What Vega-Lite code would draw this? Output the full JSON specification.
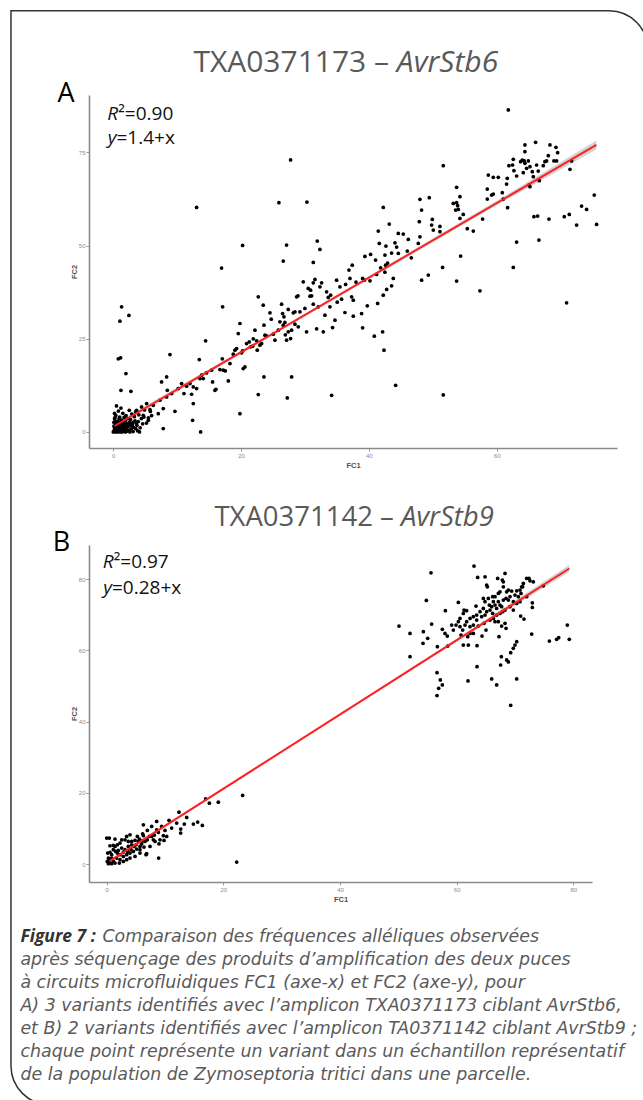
{
"$schema":"https://vega.github.io/schema/vega-lite/v6.json",
"background":"white",
"padding":{"left":10,"top":10,"right":0,"bottom":0},
"bounds":"flush",
"spacing":97,
"config":{
  "view":{"stroke":null},
  "axis":{"grid":false,"domainColor":"#8a8a8a","domainWidth":1.6,"tickColor":"#9a9a9a","tickSize":3,"tickWidth":1,"labelFont":"Liberation Sans","labelFontSize":6,"labelColor":"#8c8c8c","labelPadding":1,"titleFont":"Liberation Sans","titleFontSize":7.5,"titleColor":"#505050","titleFontWeight":"bold"},
  "axisY":{"titlePadding":0},
  "axisX":{"titlePadding":3}
},
"vconcat":[
{
"width":528,"height":353,
"encoding":{
  "x":{"field":"x","type":"quantitative","scale":{"domain":[-3.8,78.83],"nice":false,"zero":false},"axis":{"title":"FC1","values":[0,20,40,60]}},
  "y":{"field":"y","type":"quantitative","scale":{"domain":[-4.3,90.4],"nice":false,"zero":false},"axis":{"title":"FC2","values":[0,25,50,75]}}
},
"layer":[
 {"data":{"values":[{"x":-16.01,"x2":83.68,"y":112.97,"y2":-180.5}]},
  "mark":{"type":"rect","filled":false,"color":"#333333","strokeWidth":1.5,"cornerRadiusTopRight":39,"cornerRadiusBottomLeft":39},
  "encoding":{"x2":{"field":"x2"},"y2":{"field":"y2"}}},
 {"data":{"values":[{"x":0.2,"y":0.9,"y2":2.3},{"x":20,"y":21.0,"y2":21.8},{"x":40,"y":41.0,"y2":41.8},{"x":60,"y":60.8,"y2":62.0},{"x":75.6,"y":75.8,"y2":78.2}]},
  "mark":{"type":"area","color":"#9e9e9e","opacity":0.45},
  "encoding":{"y2":{"field":"y2"}}},
 {"data":{"values":[
{"x":27.75,"y":72.97},{"x":13.04,"y":60.25},{"x":25.92,"y":61.51},{"x":30.31,"y":61.69},{"x":20.24,"y":50.05},{"x":27.12,"y":50.14},{"x":31.92,"y":51.21},{"x":32.34,"y":48.97},{"x":26.6,"y":45.84},{"x":31.3,"y":45.48},{"x":16.95,"y":43.96},{"x":1.3,"y":33.57},{"x":1.04,"y":29.72},{"x":2.45,"y":31.25},{"x":17.11,"y":33.57},{"x":0.78,"y":19.61},{"x":1.15,"y":19.88},{"x":1.98,"y":15.67},{"x":1.2,"y":11.19},{"x":2.76,"y":10.92},{"x":8.87,"y":20.77},{"x":14.45,"y":24.44},{"x":13.46,"y":19.43},{"x":17.06,"y":19.61},{"x":19.82,"y":4.92},{"x":13.67,"y":0},{"x":7.82,"y":0.9},{"x":12.41,"y":3.13},{"x":27.23,"y":9.13},{"x":22.69,"y":10.03},{"x":27.91,"y":14.77},{"x":20.34,"y":17.01},
{"x":3.65,"y":5.82},{"x":4.43,"y":6.71},{"x":5.22,"y":7.61},{"x":4.69,"y":4.48},{"x":5.74,"y":6.0},{"x":5.48,"y":3.13},{"x":6.26,"y":7.16},{"x":7.3,"y":8.51},{"x":7.04,"y":4.92},{"x":7.82,"y":6.27},{"x":8.35,"y":9.4},{"x":8.45,"y":11.19},{"x":9.13,"y":10.3},{"x":7.56,"y":13.43},{"x":8.35,"y":14.77},{"x":9.65,"y":5.55},{"x":10.17,"y":11.64},{"x":10.69,"y":12.98},{"x":11.06,"y":10.3},{"x":11.48,"y":12.27},{"x":12.0,"y":12.98},{"x":12.26,"y":10.12},{"x":12.52,"y":7.61},{"x":12.52,"y":12.09},{"x":13.04,"y":11.64},{"x":13.56,"y":14.32},{"x":13.82,"y":15.22},{"x":14.08,"y":14.32},{"x":14.6,"y":15.85},{"x":15.39,"y":16.56},{"x":15.54,"y":13.43},{"x":15.91,"y":11.19},{"x":16.07,"y":11.46},{"x":16.69,"y":16.74},{"x":17.21,"y":16.56},{"x":17.53,"y":16.38},{"x":18.0,"y":13.7},{"x":18.26,"y":18.35},{"x":18.78,"y":20.86},{"x":19.04,"y":21.93},{"x":19.3,"y":22.38},{"x":19.56,"y":26.41},{"x":19.82,"y":29.1},{"x":20.08,"y":21.22},{"x":20.24,"y":21.76},{"x":20.6,"y":17.46},{"x":20.86,"y":23.73},{"x":21.28,"y":24.17},{"x":21.49,"y":22.83},{"x":21.81,"y":23.01},{"x":21.91,"y":24.98},{"x":22.17,"y":27.31},{"x":22.43,"y":24.44},{"x":22.53,"y":21.93},{"x":22.69,"y":36.26},{"x":22.95,"y":23.28},{"x":23.21,"y":23.73},{"x":23.47,"y":34.02},{"x":23.58,"y":14.77},{"x":23.58,"y":28.65},{"x":23.73,"y":25.96},{"x":23.99,"y":25.78},{"x":24.52,"y":31.96},{"x":24.72,"y":30.26},{"x":25.04,"y":26.23},{"x":25.3,"y":24.62},{"x":25.82,"y":27.31},{"x":26.08,"y":29.54},{"x":26.34,"y":34.29},{"x":26.5,"y":31.78},{"x":26.6,"y":28.65},{"x":26.71,"y":30.89},{"x":26.86,"y":29.37},{"x":26.92,"y":26.05},{"x":27.12,"y":24.62},{"x":27.38,"y":32.86},{"x":27.38,"y":26.86},{"x":27.75,"y":25.07},{"x":27.91,"y":27.31},{"x":28.17,"y":31.96},{"x":28.43,"y":28.92},{"x":28.43,"y":32.23},{"x":28.69,"y":36.26},{"x":28.9,"y":36.53},{"x":28.95,"y":28.2},{"x":29.21,"y":32.23},{"x":29.73,"y":40.29},{"x":29.99,"y":33.13},{"x":30.25,"y":26.86},{"x":30.51,"y":38.5},{"x":30.78,"y":36.44},{"x":30.88,"y":38.05},{"x":31.04,"y":36.53},{"x":31.3,"y":34.29},{"x":31.3,"y":40.02},{"x":31.56,"y":40.92},{"x":31.82,"y":27.67},{"x":32.08,"y":33.57},{"x":32.34,"y":38.95},{"x":32.6,"y":40.02},{"x":32.86,"y":26.86},{"x":33.12,"y":31.34},{"x":33.38,"y":37.6},{"x":33.64,"y":36.08},
{"x":61.82,"y":86.39},{"x":64.42,"y":76.99},{"x":64.42,"y":75.2},{"x":66.09,"y":77.71},{"x":68.34,"y":76.99},{"x":69.28,"y":76.37},{"x":69.54,"y":74.93},{"x":69.38,"y":72.7},{"x":68.96,"y":72.7},{"x":68.08,"y":74.13},{"x":67.81,"y":72.7},{"x":67.29,"y":71.44},{"x":67.55,"y":72.52},{"x":66.51,"y":70.01},{"x":66.25,"y":71.62},{"x":65.73,"y":68.49},{"x":65.57,"y":69.83},{"x":65.21,"y":71.17},{"x":64.95,"y":72.7},{"x":64.32,"y":72.7},{"x":64.01,"y":72.96},{"x":63.75,"y":72.52},{"x":64.42,"y":72.07},{"x":64.68,"y":70.72},{"x":64.16,"y":69.56},{"x":63.12,"y":68.67},{"x":62.6,"y":73.14},{"x":62.7,"y":70.1},{"x":62.49,"y":71.62},{"x":61.92,"y":71.44},{"x":61.66,"y":68.04},{"x":61.55,"y":66.52},{"x":60.25,"y":68.31},{"x":59.47,"y":68.31},{"x":59.21,"y":63.56},{"x":58.69,"y":68.93},{"x":58.53,"y":65.17},{"x":58.53,"y":62.49},{"x":59.47,"y":63.83},{"x":60.88,"y":64.19},{"x":61.03,"y":62.49},{"x":61.71,"y":60.16},{"x":65.05,"y":66.25},{"x":65.21,"y":65.8},{"x":66.67,"y":67.41},{"x":71.47,"y":70.46},{"x":71.73,"y":72.7},{"x":70.58,"y":57.74},{"x":71.36,"y":58.37},{"x":65.83,"y":57.74},{"x":66.41,"y":57.92},{"x":68.18,"y":57.12},{"x":72.51,"y":55.51},{"x":73.29,"y":60.61},{"x":74.07,"y":59.71},{"x":75.27,"y":63.56},{"x":75.64,"y":55.68},{"x":70.94,"y":34.65},{"x":66.61,"y":51.48},{"x":63.12,"y":50.94},{"x":62.6,"y":44.14},{"x":57.38,"y":37.87},{"x":57.8,"y":57.12},{"x":56.34,"y":53.89},{"x":55.4,"y":54.52},{"x":54.36,"y":47.18},{"x":53.73,"y":40.47},{"x":54.77,"y":58.37},{"x":54.25,"y":57.3},{"x":53.99,"y":59.71},{"x":53.89,"y":60.7},{"x":53.57,"y":59.53},{"x":53.73,"y":61.5},{"x":53.21,"y":61.32},{"x":53.73,"y":65.62},{"x":54.25,"y":63.12},{"x":51.64,"y":71.44},{"x":51.54,"y":44.14},{"x":51.64,"y":9.94},{"x":51.12,"y":53.72},{"x":51.12,"y":55.15},{"x":49.92,"y":57.03},{"x":50.08,"y":54.16},{"x":49.82,"y":55.51},{"x":49.45,"y":62.85},{"x":49.3,"y":42.08},{"x":48.25,"y":40.73},{"x":48.25,"y":59.53},{"x":47.99,"y":62.4},{"x":47.99,"y":52.37},{"x":47.89,"y":56.4},{"x":47.73,"y":50.58},{"x":46.64,"y":46.73},{"x":46.17,"y":51.66},{"x":46.01,"y":48.52},{"x":45.38,"y":53.09},{"x":44.6,"y":53.27},{"x":44.6,"y":47.9},{"x":44.34,"y":49.6},{"x":44.08,"y":50.76},{"x":43.82,"y":41.18},{"x":43.56,"y":39.21},{"x":43.56,"y":47.99},{"x":43.19,"y":55.77},{"x":42.93,"y":45.3},{"x":42.78,"y":38.23},{"x":42.62,"y":44.76},{"x":42.51,"y":42.88},{"x":42.25,"y":60.25},{"x":42.25,"y":36.71},{"x":42.15,"y":26.86},{"x":42.36,"y":21.93},{"x":44.18,"y":12.53},{"x":42.67,"y":49.87},{"x":42.51,"y":47.45},{"x":41.84,"y":44.05},{"x":41.63,"y":50.58},{"x":41.47,"y":53.89},{"x":41.37,"y":34.47},{"x":41.21,"y":42.26},{"x":41.05,"y":46.11},{"x":40.27,"y":47.63},{"x":40.17,"y":40.56},{"x":39.75,"y":33.84},{"x":39.38,"y":47.09},{"x":39.02,"y":41.18},{"x":38.86,"y":31.78},{"x":39.02,"y":27.93},{"x":40.85,"y":25.69},{"x":39.28,"y":40.73},{"x":37.98,"y":40.2},{"x":37.56,"y":35.36},{"x":37.56,"y":31.07},{"x":37.3,"y":36.26},{"x":37.04,"y":41.18},{"x":36.88,"y":43.42},{"x":37.4,"y":44.76},{"x":36.36,"y":39.57},{"x":36.25,"y":32.05},{"x":35.73,"y":35.63},{"x":35.47,"y":38.94},{"x":34.95,"y":40.73},{"x":35.05,"y":34.83},{"x":34.69,"y":29.99},{"x":34.32,"y":28.02},{"x":34.17,"y":9.85},{"x":33.91,"y":33.57},{"x":34.01,"y":36.71},
{"x":0.1,"y":0.2},{"x":0.3,"y":0.0},{"x":0.5,"y":0.4},{"x":0.2,"y":1.1},{"x":0.8,"y":0.1},{"x":0.6,"y":1.5},{"x":1.0,"y":0.3},{"x":1.2,"y":0.9},{"x":0.4,"y":2.1},{"x":0.9,"y":1.8},{"x":1.4,"y":0.0},{"x":1.5,"y":1.2},{"x":1.1,"y":2.5},{"x":0.3,"y":3.0},{"x":1.8,"y":0.5},{"x":1.7,"y":2.0},{"x":2.0,"y":1.0},{"x":2.2,"y":0.2},{"x":0.7,"y":2.8},{"x":1.3,"y":3.2},{"x":2.4,"y":1.6},{"x":2.5,"y":2.6},{"x":1.9,"y":3.0},{"x":2.8,"y":0.8},{"x":3.0,"y":2.0},{"x":2.7,"y":3.3},{"x":3.2,"y":1.2},{"x":3.4,"y":3.0},{"x":3.6,"y":2.4},{"x":0.2,"y":0.6},{"x":0.5,"y":1.0},{"x":0.9,"y":0.7},{"x":1.6,"y":0.4},{"x":2.1,"y":2.2},{"x":2.3,"y":3.6},{"x":1.0,"y":4.0},{"x":0.4,"y":4.4},{"x":0.1,"y":1.6},{"x":0.0,"y":0.0},{"x":0.6,"y":0.0},{"x":1.1,"y":0.0},{"x":1.9,"y":0.0},{"x":2.6,"y":0.0},{"x":3.1,"y":0.1},{"x":3.8,"y":0.3},{"x":4.2,"y":1.1},{"x":3.9,"y":2.8},{"x":4.4,"y":3.6},{"x":4.0,"y":4.6},{"x":3.3,"y":4.1},{"x":2.9,"y":4.8},{"x":2.0,"y":4.4},{"x":1.5,"y":5.0},{"x":0.8,"y":5.6},{"x":0.2,"y":5.0},{"x":4.6,"y":2.2},{"x":4.8,"y":4.0},{"x":3.5,"y":5.4},{"x":2.5,"y":5.8},{"x":1.2,"y":6.4},{"x":0.5,"y":7.0},{"x":0.1,"y":2.6},{"x":0.9,"y":3.5},{"x":1.6,"y":2.7},{"x":2.2,"y":1.4},{"x":2.9,"y":1.7},{"x":3.5,"y":0.9},{"x":4.1,"y":0.0},{"x":0.3,"y":0.9},{"x":0.7,"y":0.6},{"x":1.3,"y":1.5},{"x":1.8,"y":1.3},{"x":2.6,"y":2.3},{"x":3.1,"y":2.6},{"x":0.4,"y":1.3},{"x":1.0,"y":1.0},{"x":1.4,"y":2.0},{"x":0.6,"y":2.3},{"x":0.2,"y":3.6},{"x":5.2,"y":2.4},{"x":5.5,"y":3.8},{"x":5.8,"y":5.5},{"x":4.9,"y":5.9},{"x":6.0,"y":4.4},{"x":0.3,"y":4.0},{"x":2.4,"y":0.5},{"x":3.7,"y":1.8},{"x":1.7,"y":3.9},{"x":0.8,"y":0.2}
 ]},
  "mark":{"type":"circle","size":14,"color":"#000000","opacity":1}},
 {"data":{"values":[{"x":0.2,"y":1.6},{"x":75.6,"y":77.0}]},
  "mark":{"type":"line","color":"#ff2020","strokeWidth":2}},
 {"data":{"values":[{"x":44.38,"y":99.1,"t":"TXA0371173 –\u00a0\u200b"}]},
  "mark":{"type":"text","align":"right","baseline":"middle","font":"Open Sans","fontSize":30,"color":"#595959"},
  "encoding":{"text":{"field":"t"}}},
 {"data":{"values":[{"x":44.38,"y":99.1,"t":"AvrStb6"}]},
  "mark":{"type":"text","align":"left","baseline":"middle","font":"Open Sans","fontSize":30,"fontStyle":"italic","color":"#595959"},
  "encoding":{"text":{"field":"t"}}},
 {"data":{"values":[{"x":-7.4,"y":90.7,"t":"A"}]},
  "mark":{"type":"text","align":"center","baseline":"middle","font":"Open Sans","fontSize":27,"color":"#000000"},
  "encoding":{"text":{"field":"t"}}},
 {"data":{"values":[{"x":0.77,"y":85.3,"t":"R"},{"x":0.5,"y":78.9,"t":"y"}]},
  "mark":{"type":"text","align":"right","baseline":"middle","font":"Open Sans","fontSize":19,"fontStyle":"italic","color":"#111111"},
  "encoding":{"text":{"field":"t"}}},
 {"data":{"values":[{"x":0.77,"y":85.3,"t":"²=0.90"},{"x":0.5,"y":78.9,"t":"=1.4+x"}]},
  "mark":{"type":"text","align":"left","baseline":"middle","font":"Open Sans","fontSize":19,"color":"#111111"},
  "encoding":{"text":{"field":"t"}}}
]
},
{
"bounds":"flush",
"spacing":43,
"vconcat":[
{
"width":503,"height":337,
"encoding":{
  "x":{"field":"x","type":"quantitative","scale":{"domain":[-3.03,83.2],"nice":false,"zero":false},"axis":{"title":"FC1","values":[0,20,40,60,80]}},
  "y":{"field":"y","type":"quantitative","scale":{"domain":[-5.04,89.6],"nice":false,"zero":false},"axis":{"title":"FC2","values":[0,20,40,60,80]}}
},
"layer":[
 {"data":{"values":[{"x":0.5,"y":0.4,"y2":1.2},{"x":20,"y":20.9,"y2":21.3},{"x":40,"y":41.8,"y2":42.2},{"x":60,"y":62.5,"y2":63.3},{"x":79.3,"y":82.0,"y2":84.0}]},
  "mark":{"type":"area","color":"#9e9e9e","opacity":0.45},
  "encoding":{"y2":{"field":"y2"}}},
 {"data":{"values":[
{"x":23.31,"y":19.26},{"x":16.97,"y":18.32},{"x":17.6,"y":17.11},{"x":19.14,"y":17.39},{"x":22.29,"y":0.56},{"x":8.91,"y":1.68},{"x":12.4,"y":14.58},{"x":13.71,"y":13.09},{"x":13.31,"y":11.22},{"x":12.69,"y":8.69},{"x":14.86,"y":11.22},{"x":15.6,"y":11.78},{"x":16.4,"y":10.84},{"x":10.69,"y":12.25},{"x":9.43,"y":10.56},{"x":10.0,"y":9.44},{"x":9.83,"y":6.64},{"x":8.97,"y":5.7},{"x":8.57,"y":11.97},{"x":8.57,"y":9.63},{"x":8.0,"y":6.82},{"x":7.71,"y":10.56},{"x":6.97,"y":9.44},{"x":6.29,"y":11.03},{"x":6.17,"y":8.51},{"x":6.74,"y":2.62},{"x":5.71,"y":3.08},{"x":5.26,"y":7.76},{"x":4.86,"y":6.64},{"x":4.29,"y":6.36},{"x":4.0,"y":8.23},{"x":3.43,"y":7.76},{"x":3.14,"y":6.82},{"x":2.57,"y":6.82},{"x":2.29,"y":5.89},{"x":1.83,"y":5.42},{"x":1.43,"y":4.95},{"x":1.14,"y":4.02},{"x":0.57,"y":3.27},{"x":0.86,"y":2.62},{"x":0.29,"y":1.68},{"x":0.11,"y":0.75},{"x":0.57,"y":0.28},{"x":1.14,"y":0.75},{"x":1.71,"y":1.68},{"x":2.29,"y":1.22},{"x":2.86,"y":2.15},{"x":3.43,"y":2.62},{"x":4.0,"y":3.08},{"x":4.57,"y":3.55},{"x":5.14,"y":4.21},{"x":5.71,"y":4.95},{"x":6.0,"y":5.7},{"x":6.57,"y":6.36},{"x":6.97,"y":6.82},{"x":7.31,"y":7.76},{"x":7.71,"y":7.76},{"x":8.17,"y":8.13},{"x":0.0,"y":7.29},{"x":0.46,"y":7.29},{"x":1.43,"y":7.01},{"x":0.57,"y":5.14},{"x":0.17,"y":3.08},{"x":1.14,"y":5.23},{"x":2.0,"y":3.83},{"x":2.57,"y":4.49},{"x":3.14,"y":4.02},{"x":3.71,"y":4.95},{"x":4.29,"y":5.42},{"x":4.69,"y":4.95},{"x":5.43,"y":6.36},{"x":6.4,"y":4.77},{"x":7.43,"y":4.95},{"x":8.29,"y":6.36},{"x":9.14,"y":6.82},{"x":6.29,"y":7.95},{"x":5.71,"y":4.02},{"x":4.86,"y":2.15},{"x":4.0,"y":1.68},{"x":3.43,"y":1.22},{"x":2.86,"y":0.75},{"x":2.17,"y":0.28},{"x":1.43,"y":0.28},{"x":0.86,"y":0.09},{"x":0.29,"y":0.09},{"x":1.83,"y":3.08},{"x":1.54,"y":3.55},{"x":2.86,"y":3.37},{"x":4.17,"y":4.02},{"x":5.03,"y":5.42},{"x":3.71,"y":6.36},{"x":6.86,"y":2.9},{"x":8.86,"y":8.88},{"x":9.71,"y":7.95},{"x":10.29,"y":7.76},{"x":12.0,"y":11.5},{"x":11.14,"y":10.1},{"x":12.69,"y":9.82},{"x":5.6,"y":7.01},{"x":3.6,"y":3.46},{"x":6.06,"y":6.54},{"x":2.29,"y":2.62},{"x":0.86,"y":1.68},{"x":0.46,"y":1.03},
{"x":62.97,"y":83.67},{"x":55.6,"y":81.8},{"x":63.6,"y":80.49},{"x":64.86,"y":80.68},{"x":67.03,"y":80.21},{"x":67.83,"y":79.74},{"x":68.29,"y":81.61},{"x":72.4,"y":80.21},{"x":73.14,"y":79.27},{"x":74.86,"y":78.15},{"x":71.43,"y":78.81},{"x":71.14,"y":77.87},{"x":70.86,"y":76.94},{"x":70.29,"y":76.75},{"x":69.43,"y":76.66},{"x":68.86,"y":76.94},{"x":68.57,"y":76.47},{"x":68.0,"y":77.87},{"x":67.43,"y":76.47},{"x":67.14,"y":76.0},{"x":66.57,"y":75.07},{"x":66.29,"y":73.67},{"x":66.17,"y":75.07},{"x":65.43,"y":74.6},{"x":65.14,"y":78.34},{"x":65.26,"y":77.87},{"x":64.86,"y":73.67},{"x":64.57,"y":71.8},{"x":64.0,"y":70.86},{"x":63.31,"y":72.45},{"x":63.43,"y":69.93},{"x":62.86,"y":69.46},{"x":62.29,"y":68.99},{"x":61.71,"y":71.14},{"x":61.26,"y":71.33},{"x":61.14,"y":70.39},{"x":60.57,"y":68.99},{"x":60.29,"y":73.48},{"x":60.29,"y":68.06},{"x":59.89,"y":67.12},{"x":60.57,"y":66.65},{"x":61.03,"y":65.72},{"x":61.43,"y":67.12},{"x":61.71,"y":68.06},{"x":62.29,"y":66.65},{"x":62.86,"y":67.12},{"x":63.43,"y":68.52},{"x":64.29,"y":69.46},{"x":64.86,"y":69.93},{"x":65.14,"y":70.86},{"x":65.71,"y":71.33},{"x":66.0,"y":72.26},{"x":66.57,"y":72.73},{"x":66.86,"y":71.8},{"x":67.43,"y":72.73},{"x":67.71,"y":72.26},{"x":68.0,"y":74.13},{"x":68.46,"y":74.6},{"x":68.86,"y":74.13},{"x":69.14,"y":75.07},{"x":69.71,"y":73.67},{"x":70.0,"y":75.54},{"x":70.57,"y":75.07},{"x":71.03,"y":76.0},{"x":71.31,"y":77.87},{"x":72.0,"y":75.07},{"x":72.97,"y":73.38},{"x":72.97,"y":72.08},{"x":70.86,"y":73.67},{"x":70.29,"y":73.2},{"x":69.71,"y":71.33},{"x":69.14,"y":72.26},{"x":68.29,"y":71.33},{"x":67.89,"y":70.86},{"x":67.43,"y":70.39},{"x":66.86,"y":69.93},{"x":66.29,"y":68.99},{"x":65.71,"y":68.52},{"x":66.57,"y":68.06},{"x":67.14,"y":68.06},{"x":67.71,"y":66.84},{"x":68.29,"y":67.59},{"x":68.46,"y":66.19},{"x":67.26,"y":63.85},{"x":65.03,"y":65.72},{"x":64.34,"y":64.04},{"x":63.71,"y":66.84},{"x":62.0,"y":61.51},{"x":61.14,"y":61.51},{"x":63.49,"y":61.33},{"x":61.89,"y":63.85},{"x":60.74,"y":64.32},{"x":59.14,"y":67.12},{"x":58.4,"y":64.04},{"x":58.46,"y":61.23},{"x":58.0,"y":64.78},{"x":57.54,"y":65.91},{"x":58.06,"y":71.14},{"x":54.8,"y":74.04},{"x":55.71,"y":67.4},{"x":54.29,"y":65.25},{"x":54.23,"y":61.98},{"x":55.03,"y":63.38},{"x":50.11,"y":66.84},{"x":52.0,"y":64.78},{"x":52.0,"y":58.24},{"x":56.69,"y":61.05},{"x":56.63,"y":53.75},{"x":57.2,"y":51.7},{"x":57.54,"y":50.29},{"x":56.91,"y":49.36},{"x":56.63,"y":47.3},{"x":61.94,"y":51.42},{"x":63.49,"y":55.44},{"x":66.0,"y":51.98},{"x":66.86,"y":50.29},{"x":67.66,"y":58.24},{"x":67.54,"y":55.9},{"x":68.57,"y":57.31},{"x":68.86,"y":56.75},{"x":69.26,"y":59.36},{"x":69.71,"y":60.58},{"x":70.0,"y":61.51},{"x":70.29,"y":62.45},{"x":70.29,"y":51.98},{"x":69.26,"y":44.59},{"x":70.97,"y":69.65},{"x":71.54,"y":68.8},{"x":72.86,"y":64.6},{"x":75.89,"y":62.63},{"x":77.14,"y":63.1},{"x":77.49,"y":63.57},{"x":78.97,"y":67.12},{"x":79.31,"y":63.1},{"x":72.0,"y":80.21},{"x":72.57,"y":79.55},{"x":68.0,"y":79.27},{"x":67.14,"y":73.67},{"x":64.57,"y":74.6},{"x":65.6,"y":72.73},{"x":66.17,"y":70.39},{"x":64.69,"y":67.59},{"x":62.86,"y":64.78},{"x":62.29,"y":64.78},{"x":59.43,"y":65.72}
 ]},
  "mark":{"type":"circle","size":14,"color":"#000000","opacity":1}},
 {"data":{"values":[{"x":0.5,"y":0.8},{"x":79.3,"y":83.0}]},
  "mark":{"type":"line","color":"#ff2020","strokeWidth":2}},
 {"data":{"values":[{"x":50.45,"y":97.1,"t":"TXA0371142 –\u00a0\u200b"}]},
  "mark":{"type":"text","align":"right","baseline":"middle","font":"Open Sans","fontSize":27.5,"color":"#595959"},
  "encoding":{"text":{"field":"t"}}},
 {"data":{"values":[{"x":50.45,"y":97.1,"t":"AvrStb9"}]},
  "mark":{"type":"text","align":"left","baseline":"middle","font":"Open Sans","fontSize":27.5,"fontStyle":"italic","color":"#595959"},
  "encoding":{"text":{"field":"t"}}},
 {"data":{"values":[{"x":-7.75,"y":90.1,"t":"B"}]},
  "mark":{"type":"text","align":"center","baseline":"middle","font":"Open Sans","fontSize":27,"color":"#000000"},
  "encoding":{"text":{"field":"t"}}},
 {"data":{"values":[{"x":1.2,"y":84.8,"t":"R"},{"x":0.91,"y":77.5,"t":"y"}]},
  "mark":{"type":"text","align":"right","baseline":"middle","font":"Open Sans","fontSize":19,"fontStyle":"italic","color":"#111111"},
  "encoding":{"text":{"field":"t"}}},
 {"data":{"values":[{"x":1.2,"y":84.8,"t":"²=0.97"},{"x":0.91,"y":77.5,"t":"=0.28+x"}]},
  "mark":{"type":"text","align":"left","baseline":"middle","font":"Open Sans","fontSize":19,"color":"#111111"},
  "encoding":{"text":{"field":"t"}}}
]
},
{
"width":540,"height":161,
"encoding":{
  "x":{"field":"x","type":"quantitative","scale":{"domain":[0.127,1.127],"nice":false,"zero":false},"axis":null},
  "y":{"field":"k","type":"quantitative","scale":{"domain":[0.5,7.5],"nice":false,"zero":false,"reverse":true},"axis":null},
  "text":{"field":"t"}
},
"layer":[
 {"data":{"values":[{"x":0,"k":1,"t":"Figure 7\u00a0:"}]},
  "mark":{"type":"text","align":"left","baseline":"middle","font":"Open Sans","fontSize":17.5,"fontStyle":"italic","fontWeight":"bold","color":"#333333"}},
 {"data":{"values":[{"x":0,"k":1,"t":"Comparaison des fréquences alléliques observées"}]},
  "mark":{"type":"text","align":"left","baseline":"middle","dx":82,"font":"DejaVu Sans","fontSize":17.4,"fontStyle":"italic","color":"#5a5a5a"}},
 {"data":{"values":[
   {"x":0,"k":2,"t":"après séquençage des produits d’amplification des deux puces"},
   {"x":0,"k":3,"t":"à circuits microfluidiques FC1 (axe-x) et FC2 (axe-y), pour"},
   {"x":0,"k":4,"t":"A) 3 variants identifiés avec l’amplicon TXA0371173 ciblant AvrStb6,"},
   {"x":0,"k":5,"t":"et B) 2 variants identifiés avec l’amplicon TA0371142 ciblant AvrStb9\u00a0;"},
   {"x":0,"k":6,"t":"chaque point représente un variant dans un échantillon représentatif"},
   {"x":0,"k":7,"t":"de la population de Zymoseptoria tritici dans une parcelle."}
 ]},
  "mark":{"type":"text","align":"left","baseline":"middle","font":"DejaVu Sans","fontSize":17.4,"fontStyle":"italic","color":"#5a5a5a"}}
]
}
]
}
]
}
